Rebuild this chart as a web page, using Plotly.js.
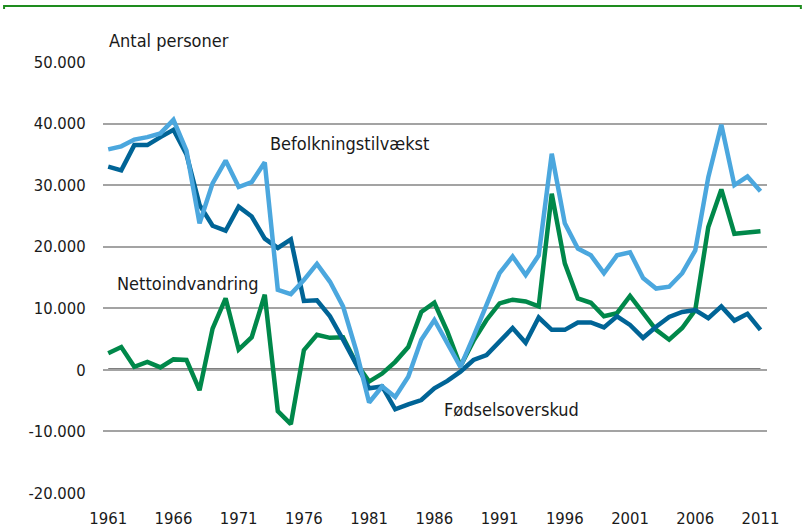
<!DOCTYPE html>
<html>
<head>
<meta charset="utf-8">
<script src="https://cdn.plot.ly/plotly-3.0.1.min.js"></script>
<style>
html,body{margin:0;padding:0;background:#fff;}
#chart{width:806px;height:532px;}
</style>
</head>
<body>
<div id="chart"></div>
<script>
// Years 1961-2011
var years = [];
for (var y = 1961; y <= 2011; y++) years.push(y);

// Befolkningstilvækst (population growth)
var befolkningstilvaekst = [
  35800, 36300, 37400, 37800, 38400, 40600, 35600, 23800, 30300, 34000,
  29700, 30500, 33700, 13000, 12300, 14600, 17200, 14300, 10300, 3200,
  -5300, -2700, -4400, -1100, 4900, 8100, 4300, 500, 5400, 10800,
  15700, 18400, 15400, 18600, 35100, 23800, 19700, 18600, 15700, 18600,
  19100, 14900, 13200, 13500, 15700, 19400, 31300, 39800, 30000, 31400,
  29000
];

// Fødselsoverskud (natural increase)
var foedselsoverskud = [
  33000, 32400, 36500, 36500, 37800, 39000, 35000, 26800, 23400, 22600,
  26500, 24900, 21300, 19800, 21200, 11200, 11300, 8700, 4900, 1100,
  -3000, -2700, -6400, -5600, -4900, -3000, -1800, -300, 1600, 2400,
  4500, 6800, 4400, 8500, 6500, 6500, 7700, 7700, 6900, 8700,
  7300, 5200, 7000, 8600, 9400, 9700, 8400, 10300, 8000, 9100,
  6500
];

// Nettoindvandring (net immigration)
var nettoindvandring = [
  2700, 3700, 500, 1300, 400, 1700, 1600, -3300, 6700, 11600,
  3300, 5300, 12200, -6700, -8800, 3200, 5700, 5200, 5300, 1100,
  -1900, -600, 1300, 3700, 9400, 10900, 6200, 600, 4700, 8100,
  10800, 11400, 11100, 10300, 28600, 17300, 11600, 10900, 8700, 9200,
  12000, 9200, 6500, 4900, 6800, 9700, 23200, 29300, 22100, 22300,
  22500
];

var yTickVals = [50000, 40000, 30000, 20000, 10000, 0, -10000, -20000];
var yTickText = ["50.000", "40.000", "30.000", "20.000", "10.000", "0", "-10.000", "-20.000"];
var xTickVals = [1961, 1966, 1971, 1976, 1981, 1986, 1991, 1996, 2001, 2006, 2011];

var FONT = '"DejaVu Sans Condensed", "Liberation Sans Narrow", Arial, sans-serif';
var TXT = '#1a1a1a';
var TICKSIZE = 16.5;
var LABELSIZE = 18;

function trace(vals, color) {
  return {
    x: years, y: vals, type: 'scatter', mode: 'lines',
    line: {color: color, width: 4.5, shape: 'linear'},
    hoverinfo: 'skip', showlegend: false
  };
}

var data = [
  trace(nettoindvandring, '#00884a'),
  trace(foedselsoverskud, '#006496'),
  trace(befolkningstilvaekst, '#4ba7de')
];

var layout = {
  width: 806, height: 532,
  margin: {l: 103, r: 39, t: 62, b: 38.5, pad: 0},
  paper_bgcolor: '#ffffff', plot_bgcolor: '#ffffff',
  font: {family: FONT, size: LABELSIZE, color: TXT},
  xaxis: {
    range: [1960.6, 2011.5],
    tickvals: xTickVals,
    ticktext: xTickVals.map(String),
    showgrid: false, zeroline: false, showline: false,
    ticks: 'outside', ticklen: 10, tickcolor: 'rgba(0,0,0,0)',
    tickfont: {family: FONT, size: TICKSIZE, color: TXT},
    fixedrange: true
  },
  yaxis: {
    range: [-20000, 50000],
    tickvals: yTickVals,
    ticktext: yTickText,
    showgrid: true, gridcolor: '#a3a3a3', gridwidth: 2,
    zeroline: false, showline: false,
    ticks: 'outside', ticklen: 13, tickcolor: 'rgba(0,0,0,0)',
    tickfont: {family: FONT, size: TICKSIZE, color: TXT},
    fixedrange: true
  },
  shapes: [
    {type: 'line', xref: 'x', yref: 'y', x0: 1961, x1: 2011, y0: 0, y1: 0,
     line: {color: '#000000', width: 2.5}, layer: 'below'},
    {type: 'path', xref: 'paper', yref: 'paper',
     path: 'M -0.149 1.123 L -0.149 1.13 L 1.051 1.13 L 1.051 1.123',
     line: {color: '#1e8c1e', width: 2}}
  ],
  annotations: [
    {text: 'Antal personer', xref: 'paper', yref: 'paper', x: 0.006, y: 1.051,
     xanchor: 'left', yanchor: 'middle', showarrow: false,
     font: {family: FONT, size: LABELSIZE, color: TXT}},
    {text: 'Befolkningstilvækst', xref: 'x', yref: 'y', x: 1973.24, y: 36800,
     xanchor: 'left', yanchor: 'middle', showarrow: false,
     font: {family: FONT, size: LABELSIZE, color: TXT}},
    {text: 'Nettoindvandring', xref: 'x', yref: 'y', x: 1961.52, y: 14100,
     xanchor: 'left', yanchor: 'middle', showarrow: false,
     font: {family: FONT, size: LABELSIZE, color: TXT}},
    {text: 'Fødselsoverskud', xref: 'x', yref: 'y', x: 1986.58, y: -6500,
     xanchor: 'left', yanchor: 'middle', showarrow: false,
     font: {family: FONT, size: LABELSIZE, color: TXT}}
  ]
};

Plotly.newPlot('chart', data, layout, {displayModeBar: false, staticPlot: true});
</script>
</body>
</html>
